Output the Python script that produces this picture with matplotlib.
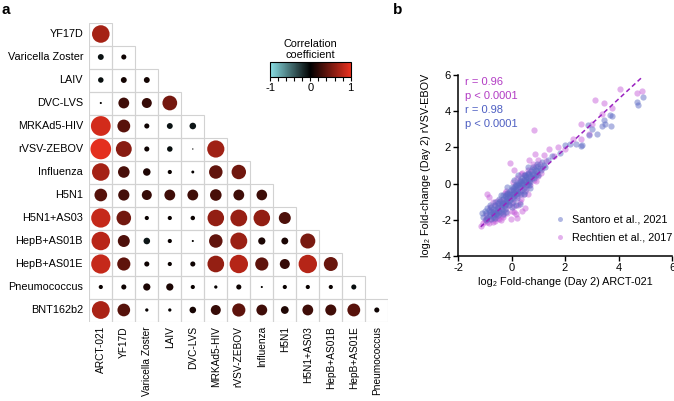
import numpy as np
import matplotlib
matplotlib.use("Agg")
import matplotlib.pyplot as plt
from matplotlib.colors import LinearSegmentedColormap, Normalize
from matplotlib.patches import Rectangle
from matplotlib.cm import ScalarMappable

plt.rcParams['font.family'] = ['Liberation Sans', 'DejaVu Sans']
plt.rcParams['axes.unicode_minus'] = False

# ---------------- panel a data ----------------
row_labels = ["YF17D", "Varicella Zoster", "LAIV", "DVC-LVS", "MRKAd5-HIV", "rVSV-ZEBOV",
              "Influenza", "H5N1", "H5N1+AS03", "HepB+AS01B", "HepB+AS01E", "Pneumococcus",
              "BNT162b2"]
col_labels = ["ARCT-021", "YF17D", "Varicella Zoster", "LAIV", "DVC-LVS", "MRKAd5-HIV",
              "rVSV-ZEBOV", "Influenza", "H5N1", "H5N1+AS03", "HepB+AS01B", "HepB+AS01E",
              "Pneumococcus"]
# lower triangle, row i has i+1 values
corr_rows = [
    [0.71],
    [-0.08, 0.06],
    [-0.07, 0.08, 0.08],
    [0.01, 0.27, 0.23, 0.5],
    [0.9, 0.38, 0.06, -0.08, -0.1],
    [0.98, 0.58, 0.06, -0.07, 0.004, 0.68],
    [0.71, 0.31, 0.13, 0.04, 0.02, 0.42, 0.48],
    [0.37, 0.29, 0.23, 0.27, 0.27, 0.31, 0.27, 0.26],
    [0.85, 0.49, 0.04, 0.04, 0.045, 0.63, 0.65, 0.63, 0.33],
    [0.79, 0.33, -0.1, 0.04, 0.01, 0.42, 0.66, 0.12, 0.11, 0.52],
    [0.85, 0.4, 0.06, 0.04, 0.06, 0.64, 0.78, 0.4, 0.23, 0.78, 0.45],
    [0.04, 0.06, 0.12, 0.12, 0.04, 0.025, 0.06, 0.01, 0.04, 0.04, 0.04, -0.06],
    [0.73, 0.37, 0.025, 0.025, 0.1, 0.23, 0.4, 0.27, 0.14, 0.27, 0.28, 0.38, 0.06],
]

# ---------------- panel b data ----------------
santoro_x = [-1.1, -1.05, -0.95, -0.9, -0.85, -0.8, -0.75, -0.7, -0.68, -0.62, -0.6, -0.57, -0.55,
             -0.52, -0.5, -0.45, -0.42, -0.4, -0.35, -0.33, -0.3, -0.28, -0.25, -0.22, -0.2,
             -0.18, -0.15, -0.12, -0.1, -0.08, -0.05, -0.02, 0.0, 0.03, 0.05, 0.08, 0.1, 0.12,
             0.15, 0.18, 0.2, 0.22, 0.25, 0.28, 0.3, 0.33, 0.35, 0.38, 0.4, 0.43, 0.45, 0.48,
             0.5, 0.53, 0.55, 0.58, 0.6, 0.63, 0.66, 0.7, 0.73, 0.76, 0.8, 0.85, 0.9, 0.95, 1.0,
             1.1, 1.2, 1.35, 1.5, 1.8, 1.99, 2.19, 2.4, 2.6, 2.64, 2.85, 2.9, 3.02, 3.19, 3.37,
             3.44, 3.5, 3.69, 3.73, 3.75, 4.68, 4.74, 4.9,
             -1.0, -0.95, -0.9, -0.85, -0.8, -0.75, -0.7, -0.65, -0.6, -0.55, -0.5, -0.45, -0.4,
             -0.35, -0.3, -0.25, -0.2, -0.15, -0.1, -0.05, 0.0, 0.05, 0.1, 0.15, 0.2, 0.25, 0.3,
             0.35, 0.4, 0.45, 0.5, 0.55, 0.6, 0.65, 0.7, 0.75, 0.8, 0.85, 0.9, 0.95, 1.0, 1.05,
             1.15, 1.25, -0.6, -0.3, 0.0, 0.3, -0.15, 0.1, 0.6, -0.8, -0.4, 0.25, 0.45, 0.7,
             -0.2, 0.15]
santoro_y = [-1.65, -1.85, -1.6, -1.9, -1.45, -1.7, -1.3, -1.55, -1.85, -1.2, -1.45, -1.67, -1.65,
             -1.05, -1.3, -1.5, -0.95, -1.2, -1.4, -0.85, -1.05, -1.25, -0.7, -0.95, -1.15,
             -0.55, -0.8, -1.0, -0.45, -0.7, -0.9, -0.35, -0.6, -0.8, -0.25, -0.5, -0.7, -0.15,
             -0.4, -0.6, -0.05, -0.3, -0.5, 0.05, -0.2, -0.4, 0.15, -0.1, 0.3, 0.0, -0.25, 0.2,
             0.45, 0.1, 0.35, -0.05, 0.25, 0.55, 0.15, 0.4, 0.7, 0.3, 0.55, 0.8, 0.45, 0.7, 0.95,
             0.75, 1.05, 1.3, 1.55, 1.7, 2.11, 2.17, 2.2, 2.1, 2.11, 3.26, 2.7, 3.0, 2.72, 3.17,
             3.54, 3.3, 3.78, 3.17, 3.72, 4.52, 4.33, 4.8,
             -1.5, -2.0, -1.35, -1.8, -1.2, -1.95, -1.4, -1.7, -1.0, -1.35, -1.75, -0.85, -1.55,
             -1.1, -0.65, -1.4, -0.85, -0.5, -1.2, -0.6, -0.2, -1.0, -0.35, 0.0, -0.8, -0.1, 0.2,
             -0.6, 0.05, 0.45, -0.4, 0.2, 0.6, -0.1, 0.1, 0.55, 0.9, 0.3, 0.75, 1.1, 0.5, 0.85,
             1.2, 0.9, -1.9, -1.7, -1.3, -1.1, -0.2, 0.2, 0.9, -1.55, -0.65, 0.45, -0.55, -0.25,
             -1.55, -1.2]
rechtien_x = [-1.15, -1.0, -0.95, -0.9, -0.9, -0.85, -0.8, -0.7, -0.7, -0.62, -0.6, -0.55, -0.5,
              -0.5, -0.42, -0.4, -0.38, -0.3, -0.3, -0.25, -0.2, -0.2, -0.15, -0.1, -0.05,
              -0.04, -0.01, 0.0, 0.05, 0.1, 0.1, 0.11, 0.15, 0.2, 0.2, 0.2, 0.25, 0.3, 0.3, 0.35,
              0.4, 0.4, 0.4, 0.45, 0.5, 0.5, 0.55, 0.6, 0.65, 0.67, 0.7, 0.75, 0.8, 0.85, 0.89,
              0.9, 0.95, 1.05, 1.15, 1.23, 1.3, 1.41, 1.6, 1.72, 2.0, 2.3, 2.58, 2.6, 2.9, 3.01,
              3.14, 3.37, 3.44, 3.75, 4.06, 4.68, 4.86,
              -1.05, -0.95, -0.85, -0.75, -0.65, -0.6, -0.5, -0.45, -0.35, -0.3, -0.2, -0.15,
              -0.1, 0.0, 0.05, 0.1, 0.15, 0.25, 0.3, 0.35, 0.45, 0.5, 0.55, 0.6, 0.7, 0.8, 0.85,
              1.0, 1.0, 1.1, -0.8, -0.55, -0.25, 0.05, 0.35, -0.7, 0.6, 0.15, -0.4, 0.9]
rechtien_y = [-2.33, -2.0, -1.95, -2.1, -0.56, -0.75, -1.95, -1.75, -2.1, -1.55, -1.2, -1.8, -1.45,
              -1.9, -1.6, -0.9, -1.3, -1.5, -1.75, -1.15, -1.35, -0.4, -0.95, -1.2, -0.75,
              1.15, -1.96, -1.05, -0.55, -0.85, -1.25, 0.76, -0.35, -0.7, 0.3, -1.9, -0.2, -0.5,
              -1.0, 0.0, -0.35, 0.6, -1.5, 0.2, -0.15, -1.35, 0.4, 0.05, 0.6, 1.28, 0.25, 0.8,
              0.45, 2.98, 1.65, 0.95, 0.6, 1.1, 0.85, 1.6, 1.25, 1.9, 1.5, 2.02, 1.9, 2.48, 2.48,
              3.28, 2.75, 3.31, 4.6, 3.83, 4.46, 4.15, 5.2, 5.0, 5.1,
              -2.2, -1.75, -2.2, -1.5, -1.95, -2.05, -1.2, -1.95, -1.0, -1.85, -0.7, -1.6,
              -0.5, -1.5, -0.3, -1.55, -0.1, -1.2, 0.15, -0.85, -0.6, 0.5, -0.3, 0.75, -0.05,
              1.1, 0.2, 1.3, 0.4, 0.6, -1.3, -0.95, -0.5, 0.1, 0.55, -1.0, -0.55, -1.7, -2.0,
              0.15]
fit_slope = 1.37
fit_intercept = -0.81
fit_range = [-1.15, 4.85]
stats_text = [("r = 0.96", 5.63, "#b23cc4"), ("p < 0.0001", 4.85, "#b23cc4"),
              ("r = 0.98", 4.05, "#4d5ec2"), ("p < 0.0001", 3.28, "#4d5ec2")]

W, H = 674, 401
fig = plt.figure(figsize=(W / 100, H / 100), dpi=100)

cmap = LinearSegmentedColormap.from_list("corr", ["#8ae0e6", "#000000", "#e8301e"])
norm = Normalize(-1, 1)

# ===============================
# panel a : correlation matrix
# ===============================
gx0, gy1, cell = 89.3, 321.5, 23.0
n = len(row_labels)
ax = fig.add_axes([gx0 / W, (H - gy1) / H, n * cell / W, n * cell / H])
ax.set_xlim(0, n)
ax.set_ylim(n, 0)
ax.axis("off")

xs, ys, vals = [], [], []
for i, row in enumerate(corr_rows):
    for j, v in enumerate(row):
        ax.add_patch(Rectangle((j, i), 1, 1, fill=False, edgecolor="#d2d2d2", lw=0.8))
        xs.append(j + 0.5)
        ys.append(i + 0.5)
        vals.append(v)
vals = np.array(vals)
ax.scatter(xs, ys, s=225 * np.abs(vals), c=vals, cmap=cmap, norm=norm, lw=0, zorder=3)

for i, lab in enumerate(row_labels):
    ax.text(-0.27, i + 0.5, lab, ha="right", va="center", fontsize=7.8)
for j, lab in enumerate(col_labels):
    ax.text(j + 0.5, n + 0.2, lab, ha="center", va="top", rotation=90, fontsize=7.3)

# colorbar
cax = fig.add_axes([270 / W, (H - 76.7) / H, 80.7 / W, 14.4 / H])
cb = fig.colorbar(ScalarMappable(norm=norm, cmap=cmap), cax=cax, orientation="horizontal")
cb.set_ticks(np.linspace(-1, 1, 11))
cb.set_ticklabels(["-1", "", "", "", "", "0", "", "", "", "", "1"])
cb.ax.tick_params(labelsize=8, length=3, width=0.8, pad=1.5)
cb.outline.set_linewidth(0.8)
cax.set_title("Correlation\ncoefficient", fontsize=7.8, pad=3, linespacing=1.15)

fig.text(2 / W, 1 - 10 / H, "a", fontsize=11, fontweight="bold", va="center")
fig.text(393 / W, 1 - 10 / H, "b", fontsize=11, fontweight="bold", va="center")

# ===============================
# panel b : scatter
# ===============================
bx = fig.add_axes([458 / W, (H - 256) / H, 214 / W, 181 / H])
bx.scatter(rechtien_x, rechtien_y, s=20, color="#c152d6", alpha=0.45, lw=0,
           label="Rechtien et al., 2017")
bx.scatter(santoro_x, santoro_y, s=20, color="#5a68c4", alpha=0.48, lw=0,
           label="Santoro et al., 2021")
lx = np.array(fit_range)
bx.plot(lx, fit_slope * lx + fit_intercept, ls=(0, (3, 2)), color="#9a22c0", lw=1.1)

bx.set_xlim(-2, 6)
bx.set_ylim(-4, 6)
bx.set_xticks([-2, 0, 2, 4, 6])
bx.set_yticks([-4, -2, 0, 2, 4, 6])
bx.spines["top"].set_visible(False)
bx.spines["right"].set_visible(False)
for s in ["left", "bottom"]:
    bx.spines[s].set_linewidth(1.1)
bx.tick_params(labelsize=8, length=3.5, width=1.0, pad=1.5)
bx.set_xlabel("log\u2082 Fold-change (Day 2) ARCT-021", fontsize=7.8, labelpad=3)
bx.set_ylabel("log\u2082 Fold-change (Day 2) rVSV-EBOV", fontsize=7.8, labelpad=7)

for txt, yv, col in stats_text:
    bx.text(-1.72, yv, txt, color=col, fontsize=8, va="center", ha="left")

h, l = bx.get_legend_handles_labels()
bx.legend(h[::-1], l[::-1], loc="lower right", bbox_to_anchor=(1.03, 0.04), frameon=False,
          fontsize=7.8, handletextpad=0.1, labelspacing=0.75, markerscale=0.8,
          borderaxespad=0.2)

plt.savefig("out.png", dpi=100)
plt.close()
